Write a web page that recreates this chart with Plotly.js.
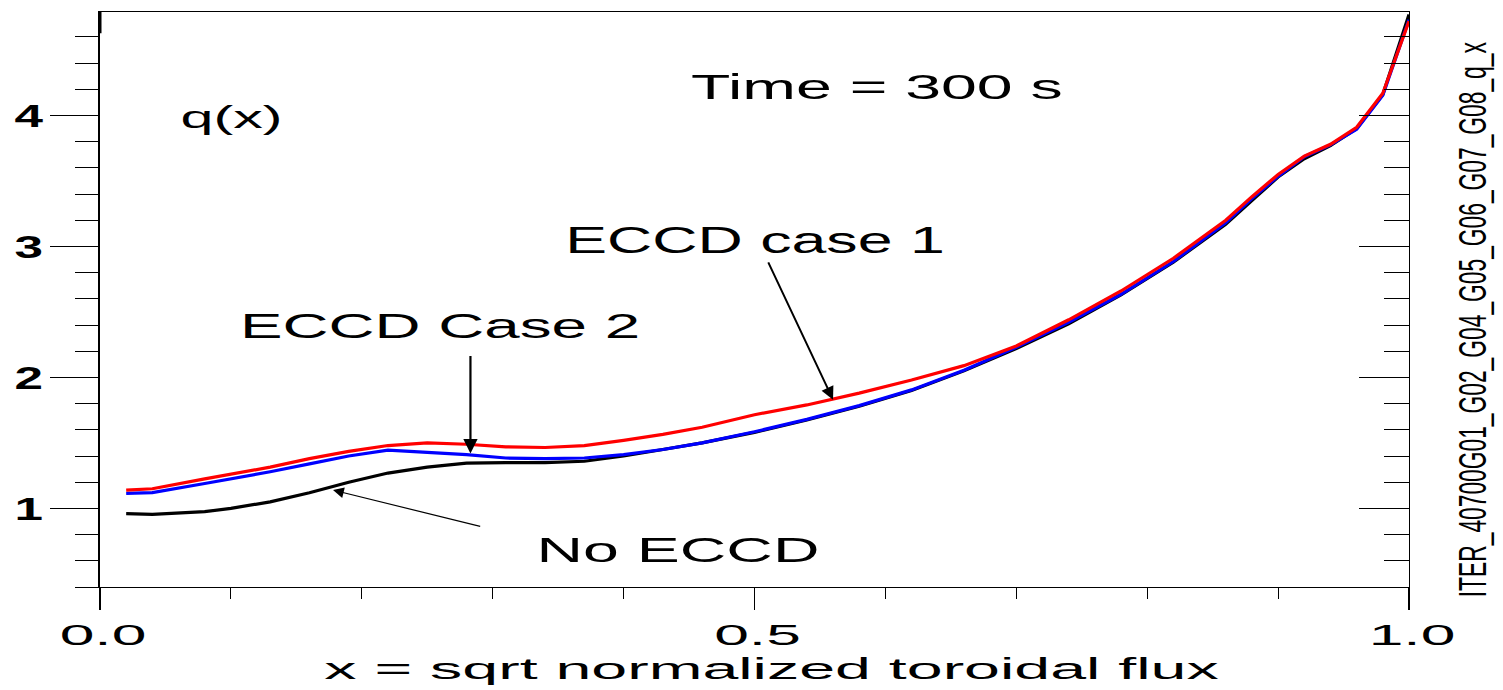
<!DOCTYPE html>
<html>
<head>
<meta charset="utf-8">
<script src="https://cdn.plot.ly/plotly-3.0.1.min.js"></script>
<style>
  html, body { margin: 0; padding: 0; background: #ffffff; }
  #chart { width: 1503px; height: 690px; }
</style>
</head>
<body>
<div id="chart"></div>
<script>
// x = sqrt normalized toroidal flux
const xGrid = [0.02, 0.04, 0.08, 0.10, 0.13, 0.16, 0.19, 0.22, 0.25, 0.28, 0.31, 0.34, 0.37, 0.40,
               0.43, 0.46, 0.50, 0.54, 0.58, 0.62, 0.66, 0.70, 0.74, 0.78, 0.82, 0.86, 0.88, 0.90,
               0.92, 0.94, 0.96, 0.98, 1.00];
// q(x) for each case
const qNoECCD = [0.96, 0.955, 0.975, 1.00, 1.05, 1.12, 1.20, 1.27, 1.315, 1.345, 1.35, 1.35, 1.36, 1.40,
                 1.45, 1.50, 1.58, 1.675, 1.78, 1.90, 2.05, 2.22, 2.41, 2.63, 2.88, 3.17, 3.35, 3.53,
                 3.67, 3.77, 3.90, 4.16, 4.77];
const qCase2  = [1.115, 1.12, 1.19, 1.225, 1.28, 1.34, 1.40, 1.445, 1.43, 1.41, 1.385, 1.38, 1.385, 1.41,
                 1.45, 1.50, 1.585, 1.68, 1.785, 1.905, 2.055, 2.23, 2.42, 2.635, 2.885, 3.18, 3.365, 3.535,
                 3.685, 3.775, 3.895, 4.155, 4.73];
const qCase1  = [1.14, 1.15, 1.225, 1.26, 1.315, 1.38, 1.435, 1.48, 1.50, 1.49, 1.47, 1.465, 1.48, 1.52,
                 1.565, 1.62, 1.715, 1.79, 1.88, 1.98, 2.09, 2.24, 2.44, 2.66, 2.91, 3.20, 3.38, 3.55,
                 3.69, 3.78, 3.91, 4.17, 4.72];
const xTickVals = [0, 0.5, 1.0];
const xTickText = ['0.0', '0.5', '1.0'];
const yTickVals = [1, 2, 3, 4];
const yTickText = ['1', '2', '3', '4'];

const FONT = 'Liberation Sans, Arial, sans-serif';

const traces = [
  { x: xGrid, y: qNoECCD, type: 'scatter', mode: 'lines', name: 'No ECCD',
    line: { color: '#000000', width: 3.2 }, hoverinfo: 'skip' },
  { x: xGrid, y: qCase2, type: 'scatter', mode: 'lines', name: 'ECCD Case 2',
    line: { color: '#0000ff', width: 3.2 }, hoverinfo: 'skip' },
  { x: xGrid, y: qCase1, type: 'scatter', mode: 'lines', name: 'ECCD case 1',
    line: { color: '#ff0000', width: 3.2 }, hoverinfo: 'skip' },
  { x: [], y: [], type: 'scatter', mode: 'lines', yaxis: 'y2', showlegend: false, hoverinfo: 'skip' }
];

const textAnn = (text, x, y, size) => ({
  text: text, x: x, y: y, xref: 'x', yref: 'y', showarrow: false,
  xanchor: 'center', yanchor: 'middle', font: { family: FONT, size: size, color: '#000000' }
});
const arrowAnn = (x, y, ax, ay, w, s) => ({
  text: '', x: x, y: y, ax: ax, ay: ay, xref: 'x', yref: 'y', axref: 'x', ayref: 'y',
  showarrow: true, arrowhead: 2, arrowsize: s, arrowwidth: w, arrowcolor: '#000000', standoff: 0
});

const layout = {
  width: 1503, height: 690,
  margin: { l: 100, r: 94, t: 12, b: 103 },
  paper_bgcolor: '#ffffff', plot_bgcolor: '#ffffff',
  showlegend: false,
  font: { family: FONT, color: '#000000' },
  xaxis: {
    range: [0, 1], tickvals: xTickVals, ticktext: xTickText,
    ticks: 'outside', ticklen: 22, tickwidth: 1.5, tickcolor: '#000000',
    minor: { dtick: 0.1, ticks: 'outside', ticklen: 11, tickwidth: 1, tickcolor: '#000000' },
    showline: true, linecolor: '#000000', linewidth: 1, mirror: true,
    showgrid: false, zeroline: false,
    tickfont: { family: FONT, size: 29, color: '#000000' },
    title: { text: 'x = sqrt normalized toroidal flux', standoff: 8,
             font: { family: FONT, size: 30, color: '#000000' } }
  },
  yaxis: {
    range: [0.4, 4.79], tickvals: yTickVals, ticktext: yTickText,
    ticks: 'outside', ticklen: 48, tickwidth: 1, tickcolor: '#000000',
    minor: { dtick: 0.2, tick0: 0, ticks: 'outside', ticklen: 23, tickwidth: 1, tickcolor: '#000000' },
    showline: true, linecolor: '#000000', linewidth: 2.5,
    showgrid: false, zeroline: false,
    tickfont: { family: FONT, size: 32, color: '#000000', weight: 'bold' }
  },
  yaxis2: {
    overlaying: 'y', side: 'right', range: [0.4, 4.79], tickvals: yTickVals,
    showticklabels: false,
    ticks: 'inside', ticklen: 50, tickwidth: 1, tickcolor: '#000000',
    minor: { dtick: 0.2, tick0: 0, ticks: 'inside', ticklen: 25, tickwidth: 1, tickcolor: '#000000' },
    showline: true, linecolor: '#000000', linewidth: 1,
    showgrid: false, zeroline: false
  },
  shapes: [
    { type: 'line', xref: 'x', yref: 'paper', x0: 0, x1: 0, y0: 1, y1: 0.963,
      line: { color: '#000000', width: 3 } }
  ],
  annotations: [
    textAnn('Time = 300 s', 0.5936, 4.224, 36),
    textAnn('q(x)', 0.1008, 3.986, 32),
    textAnn('ECCD case 1', 0.5004, 3.043, 36),
    textAnn('ECCD Case 2', 0.2597, 2.397, 36),
    textAnn('No ECCD', 0.4416, 0.683, 36),
    arrowAnn(0.560, 1.83, 0.510, 2.89, 2, 1.3),
    arrowAnn(0.283, 1.42, 0.283, 2.175, 2.2, 1.3),
    arrowAnn(0.178, 1.14, 0.2916, 0.86, 1.2, 1.8),
    { text: 'ITER_40700G01_G02_G04_G05_G06_G07_G08_q_x', xref: 'paper', yref: 'paper',
      x: 1.049, y: 0.464, showarrow: false, textangle: -90,
      xanchor: 'center', yanchor: 'middle',
      font: { family: FONT, size: 38, color: '#000000' } }
  ]
};

function stretchText(el, s, dx) {
  const bb = el.getBBox();
  const anchor = el.getAttribute('text-anchor') || 'start';
  const px = anchor === 'middle' ? bb.x + bb.width / 2 : (anchor === 'end' ? bb.x + bb.width : bb.x);
  const tr = el.getAttribute('transform') || '';
  el.setAttribute('transform', tr + ' translate(' + (px + (dx || 0)) + ',0) scale(' + s + ',1) translate(' + (-px) + ',0)');
}

const stretchMap = {
  'Time = 300 s': 1.79,
  'q(x)': 1.85,
  'ECCD case 1': 1.74,
  'ECCD Case 2': 1.77,
  'No ECCD': 1.79,
  'ITER_40700G01_G02_G04_G05_G06_G07_G08_q_x': 0.6
};

Plotly.newPlot('chart', traces, layout, { staticPlot: true, displayModeBar: false }).then(function (gd) {
  gd.querySelectorAll('.xtick text').forEach(t => stretchText(t, 2.15, 3));
  gd.querySelectorAll('.ytick text').forEach(t => stretchText(t, 1.6, 0));
  gd.querySelectorAll('.xtitle').forEach(t => stretchText(t, 2.15, 17));
  gd.querySelectorAll('.annotation-text').forEach(t => {
    const s = stretchMap[t.textContent];
    if (s) stretchText(t, s, 0);
  });
});
</script>
</body>
</html>
